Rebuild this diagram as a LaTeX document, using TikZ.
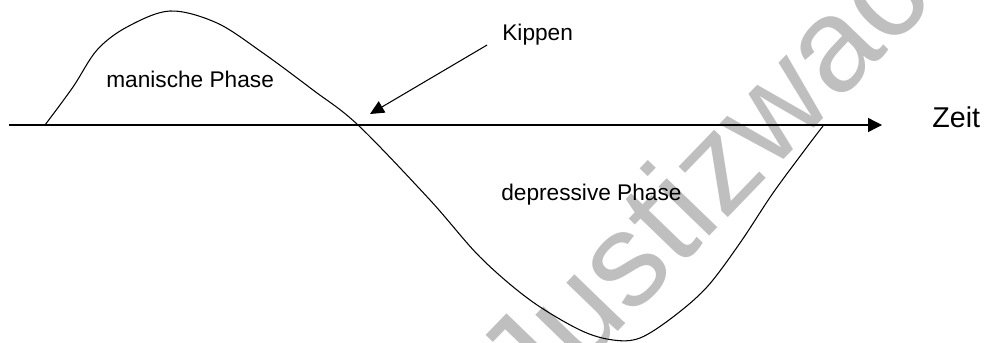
\documentclass[tikz,border=0pt]{standalone}
\usepackage{fontspec}
\setmainfont{Liberation Sans}
\usetikzlibrary{arrows.meta}
\begin{document}
\begin{tikzpicture}[
    x=0.02cm, y=-0.02cm,
    label/.style={anchor=base west, inner sep=0pt, font=\fontsize{12.9}{15}\selectfont},
    axislabel/.style={anchor=base west, inner sep=0pt, font=\fontsize{16.3}{19}\selectfont},
    watermark/.style={text=black!25, inner sep=0pt, font=\fontsize{76}{86}\selectfont},
    axis/.style={line width=0.75pt, -{Triangle[length=0.28cm, width=0.28cm]}},
    pointer/.style={line width=0.6pt, -{Triangle[length=0.28cm, width=0.26cm]}},
    wave/.style={line width=0.6pt}
]
    \useasboundingbox (0,0) rectangle (985,342);

    % Watermark
    \node[watermark, rotate=46] (stamp) at (752,124) {Justizwache};

    % Labels
    \node[label] (manic) at (106,87) {manische Phase};
    \node[label] (depressive) at (501,200) {depressive Phase};
    \node[label] (tipping) at (502,40) {Kippen};
    \node[axislabel] (time) at (932,127) {Zeit};

    % Time axis
    \coordinate (origin) at (9,125);
    \coordinate (cross) at (370,114);
    \draw[axis] (origin) -- ([xshift=-1cm]time.west |- origin);

    % Phase curve
    \draw[wave] plot[smooth, tension=0.55] coordinates {
        (45,125) (73,87) (97,50) (127,27) (170,11) (217,23) (263,53)
        (313,90) (358,125) (430,200) (480,257) (530,300)
        (580,330) (613,340) (640,338) (673,317) (707,287) (740,243)
        (773,193) (807,147) (823,126)};

    % Pointer to the tipping point
    \draw[pointer] ([xshift=-0.3cm]tipping.south west) -- (cross);

\end{tikzpicture}
\end{document}
